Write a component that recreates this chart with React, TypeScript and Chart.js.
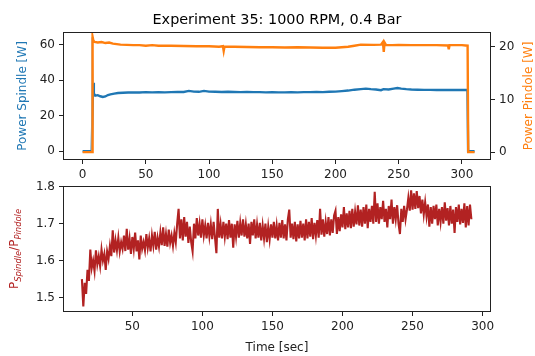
import React, { useEffect, useRef } from "react";
import { Chart, registerables } from "chart.js";

Chart.register(...registerables);

const FONT = "'DejaVu Sans', 'Liberation Sans', sans-serif";

const TITLE = "Experiment 35: 1000 RPM, 0.4 Bar";
const LEFT_LABEL = "Power Spindle [W]";
const RIGHT_LABEL = "Power Pindole [W]";
const X_LABEL = "Time [sec]";

// ---- top panel: spindle power (left axis) ----
const spindleTime = [0, 4, 7.2, 8.3, 8.9, 10, 12, 14, 16, 18, 20, 22, 25, 28, 32, 36, 40, 45, 50, 55, 60, 65, 70, 75, 80, 84, 88, 92, 96, 100, 105, 110, 115, 120, 125, 130, 135, 140, 145, 150, 155, 160, 165, 170, 175, 180, 185, 190, 195, 200, 205, 210, 215, 220, 224, 228, 232, 236, 238, 242, 246, 249, 252, 256, 260, 265, 270, 275, 280, 285, 290, 295, 300, 304.4, 304.9, 310];
const spindlePower = [0, 0, 0, 38.5, 32.6, 31.2, 31.5, 30.9, 30.5, 30.8, 31.6, 32.0, 32.4, 32.7, 32.9, 33.0, 33.1, 33.0, 33.2, 33.1, 33.2, 33.1, 33.2, 33.3, 33.3, 33.9, 33.5, 33.4, 33.9, 33.5, 33.4, 33.3, 33.4, 33.3, 33.2, 33.3, 33.2, 33.2, 33.1, 33.2, 33.1, 33.1, 33.2, 33.1, 33.2, 33.2, 33.3, 33.2, 33.4, 33.5, 33.8, 34.1, 34.6, 34.9, 35.2, 34.9, 34.7, 34.3, 34.9, 34.7, 35.2, 35.5, 35.2, 34.9, 34.7, 34.6, 34.5, 34.5, 34.4, 34.4, 34.5, 34.4, 34.4, 34.4, 0, 0];

// rise of the spindle trace at start-up (drawn faint in the original)
const riseTime = [7.0, 7.4, 8.2];
const risePower = [0, 64, 38];

// ---- top panel: pindole power (right axis) ----
const pindoleTime = [0, 4, 7.6, 7.9, 8.5, 9.5, 12, 15, 18, 21, 24, 27, 30, 35, 40, 45, 50, 55, 60, 70, 80, 90, 100, 108, 111, 111.6, 112.2, 120, 130, 140, 150, 160, 170, 180, 190, 200, 205, 210, 215, 220, 230, 236, 237.5, 238.2, 238.8, 240, 245, 250, 260, 270, 280, 289, 289.6, 290.2, 300, 304.5, 305, 310];
const pindolePower = [0, 0, 0, 21.9, 21.2, 20.9, 20.8, 20.9, 20.7, 20.8, 20.6, 20.5, 20.4, 20.35, 20.3, 20.3, 20.2, 20.3, 20.2, 20.2, 20.15, 20.1, 20.1, 20.0, 20.1, 19.2, 20.0, 20.0, 19.95, 19.9, 19.9, 19.85, 19.9, 19.85, 19.8, 19.8, 19.9, 20.0, 20.2, 20.4, 20.35, 20.4, 20.9, 19.0, 20.8, 20.3, 20.3, 20.35, 20.3, 20.3, 20.3, 20.25, 19.5, 20.3, 20.3, 20.2, 0, 0];

// ---- bottom panel: power ratio, one sample per second from t = 14 s ----
const ratioStart = 14;
const ratioStep = 1;
const ratioValues = [
  1.550, 1.476, 1.540, 1.510, 1.575, 1.545, 1.630, 1.580, 1.600, 1.572,
  1.628, 1.590, 1.612, 1.585, 1.630, 1.600, 1.618, 1.575, 1.625, 1.605,
  1.640, 1.612, 1.682, 1.622, 1.655, 1.628, 1.662, 1.625, 1.650, 1.632,
  1.668, 1.626, 1.686, 1.630, 1.660, 1.618, 1.664, 1.632, 1.676, 1.625,
  1.655, 1.603, 1.668, 1.632, 1.650, 1.628, 1.672, 1.635, 1.660, 1.625,
  1.668, 1.640, 1.678, 1.630, 1.662, 1.638, 1.676, 1.642, 1.690, 1.640,
  1.672, 1.638, 1.684, 1.648, 1.668, 1.640, 1.675, 1.650, 1.700, 1.740,
  1.660, 1.712, 1.655, 1.718, 1.665, 1.705, 1.648, 1.692, 1.650, 1.625,
  1.700, 1.660, 1.715, 1.668, 1.700, 1.662, 1.712, 1.668, 1.695, 1.660,
  1.702, 1.665, 1.698, 1.658, 1.705, 1.662, 1.620, 1.740, 1.662, 1.698,
  1.660, 1.705, 1.665, 1.700, 1.658, 1.710, 1.662, 1.700, 1.635, 1.698,
  1.665, 1.708, 1.662, 1.702, 1.668, 1.712, 1.665, 1.698, 1.660, 1.700,
  1.645, 1.705, 1.668, 1.712, 1.660, 1.698, 1.662, 1.702, 1.655, 1.695,
  1.660, 1.700, 1.650, 1.692, 1.658, 1.698, 1.662, 1.705, 1.660, 1.695,
  1.655, 1.702, 1.662, 1.710, 1.660, 1.698, 1.655, 1.712, 1.738, 1.662,
  1.700, 1.658, 1.705, 1.652, 1.698, 1.660, 1.708, 1.662, 1.700, 1.655,
  1.712, 1.660, 1.705, 1.665, 1.715, 1.658, 1.702, 1.668, 1.710, 1.662,
  1.740, 1.670, 1.712, 1.665, 1.705, 1.672, 1.718, 1.668, 1.712, 1.675,
  1.722, 1.735, 1.672, 1.718, 1.680, 1.725, 1.690, 1.745, 1.685, 1.728,
  1.690, 1.735, 1.688, 1.740, 1.692, 1.732, 1.698, 1.750, 1.695, 1.738,
  1.692, 1.745, 1.700, 1.752, 1.688, 1.740, 1.705, 1.748, 1.700, 1.786,
  1.705, 1.755, 1.700, 1.745, 1.712, 1.762, 1.705, 1.740, 1.690, 1.748,
  1.712, 1.765, 1.700, 1.745, 1.712, 1.750, 1.700, 1.672, 1.740, 1.705,
  1.748, 1.712, 1.738, 1.770, 1.735, 1.790, 1.738, 1.782, 1.740, 1.788,
  1.742, 1.775, 1.728, 1.765, 1.725, 1.758, 1.720, 1.752, 1.692, 1.745,
  1.700, 1.748, 1.712, 1.752, 1.695, 1.740, 1.705, 1.745, 1.700, 1.758,
  1.708, 1.742, 1.695, 1.748, 1.700, 1.738, 1.675, 1.745, 1.705, 1.752,
  1.698, 1.740, 1.702, 1.755, 1.690, 1.748, 1.695, 1.752, 1.712,
];

// ---- ticks ----
const topXTicks = [0, 50, 100, 150, 200, 250, 300];
const spindleTicks = [0, 20, 40, 60];
const pindoleTicks = [0, 10, 20];
const bottomXTicks = [50, 100, 150, 200, 250, 300];
const ratioTicks = [1.5, 1.6, 1.7, 1.8];

const BLUE = "#1f77b4";
const ORANGE = "#ff7f0e";
const RED = "#b22222";
const INK = "#222222";

const W = 535;
const H = 356;

function pairs(xs: number[], ys: number[]) {
  return xs.map((x, i) => ({ x, y: ys[i] }));
}

function axis(
  position: string,
  min: number,
  max: number,
  ticks: number[],
  size: number
) {
  const horizontal = position === "bottom" || position === "top";
  return {
    type: "linear",
    position,
    min,
    max,
    afterBuildTicks: (s: any) => {
      s.ticks = ticks.map((v) => ({ value: v }));
    },
    afterFit: (s: any) => {
      if (horizontal) s.height = size;
      else s.width = size;
    },
    grid: {
      display: true,
      drawOnChartArea: false,
      drawTicks: true,
      tickLength: 4,
      tickWidth: 1,
      tickColor: INK,
      color: "rgba(0,0,0,0)",
    },
    border: { display: false },
    ticks: {
      autoSkip: false,
      maxRotation: 0,
      minRotation: 0,
      padding: 4,
      color: INK,
      font: { family: FONT, size: 12 },
      callback: (v: any) => String(v),
    },
  };
}

const framePlugin = {
  id: "frame",
  afterDraw(chart: any) {
    const { ctx, chartArea: a } = chart;
    ctx.save();
    ctx.strokeStyle = INK;
    ctx.lineWidth = 1;
    ctx.strokeRect(a.left + 0.5, a.top + 0.5, a.right - a.left - 1, a.bottom - a.top - 1);
    ctx.restore();
  },
};

function rotatedText(ctx: CanvasRenderingContext2D, text: string, x: number, y: number, color: string, size: number) {
  ctx.save();
  ctx.translate(x, y);
  ctx.rotate(-Math.PI / 2);
  ctx.font = `${size}px ${FONT}`;
  ctx.fillStyle = color;
  ctx.textAlign = "center";
  ctx.textBaseline = "middle";
  ctx.fillText(text, 0, 0);
  ctx.restore();
}

const topLabels = {
  id: "topLabels",
  afterDraw(chart: any) {
    const ctx = chart.ctx as CanvasRenderingContext2D;
    const a = chart.chartArea;
    const cx = (a.left + a.right) / 2;
    const cy = (a.top + a.bottom) / 2;
    ctx.save();
    ctx.font = `14.4px ${FONT}`;
    ctx.fillStyle = "#000";
    ctx.textAlign = "center";
    ctx.textBaseline = "alphabetic";
    ctx.fillText(TITLE, cx, a.top - 8);
    ctx.restore();
    rotatedText(ctx, LEFT_LABEL, 23, cy, BLUE, 12);
    rotatedText(ctx, RIGHT_LABEL, 529, cy, ORANGE, 12);
  },
};

const bottomLabels = {
  id: "bottomLabels",
  afterDraw(chart: any) {
    const ctx = chart.ctx as CanvasRenderingContext2D;
    const a = chart.chartArea;
    const cx = (a.left + a.right) / 2;
    const cy = (a.top + a.bottom) / 2;
    ctx.save();
    ctx.font = `12px ${FONT}`;
    ctx.fillStyle = INK;
    ctx.textAlign = "center";
    ctx.textBaseline = "middle";
    ctx.fillText(X_LABEL, cx, 348);
    ctx.restore();

    // P_Spindle / P_Pindole with italic subscripts
    const parts: [string, boolean][] = [
      ["P", false],
      ["Spindle", true],
      ["/P", false],
      ["Pindole", true],
    ];
    const mainFont = `12px ${FONT}`;
    const subFont = `italic 8.4px ${FONT}`;
    ctx.save();
    ctx.translate(16, cy);
    ctx.rotate(-Math.PI / 2);
    ctx.fillStyle = RED;
    ctx.textBaseline = "alphabetic";
    ctx.textAlign = "left";
    let total = 0;
    for (const [t, sub] of parts) {
      ctx.font = sub ? subFont : mainFont;
      total += ctx.measureText(t).width;
    }
    let x = -total / 2;
    const base = 2.2;
    for (const [t, sub] of parts) {
      ctx.font = sub ? subFont : mainFont;
      ctx.fillText(t, x, sub ? base + 2.6 : base);
      x += ctx.measureText(t).width;
    }
    ctx.restore();
  },
};

function useChart(ref: React.RefObject<HTMLCanvasElement>, build: () => any) {
  useEffect(() => {
    if (!ref.current) return;
    const chart = new Chart(ref.current, build());
    return () => chart.destroy();
  }, []);
}

export default function App() {
  const topRef = useRef<HTMLCanvasElement>(null);
  const botRef = useRef<HTMLCanvasElement>(null);

  useChart(topRef, () => ({
    type: "line",
    data: {
      datasets: [
        {
          label: "Power Pindole",
          data: pairs(pindoleTime, pindolePower),
          yAxisID: "y1",
          borderColor: ORANGE,
          borderWidth: 2.4,
          pointRadius: 0,
          tension: 0,
          order: 0,
        },
        {
          label: "rise",
          data: pairs(riseTime, risePower),
          yAxisID: "y",
          borderColor: "#a9b6c4",
          borderWidth: 1.4,
          pointRadius: 0,
          tension: 0,
          order: 1,
        },
        {
          label: "Power Spindle",
          data: pairs(spindleTime, spindlePower),
          yAxisID: "y",
          borderColor: BLUE,
          borderWidth: 2.4,
          pointRadius: 0,
          tension: 0,
          order: 2,
        },
      ],
    },
    options: {
      responsive: false,
      animation: false,
      devicePixelRatio: 1,
      layout: { padding: { top: 32, left: 0, right: 0, bottom: 0 } },
      plugins: { legend: { display: false }, tooltip: { enabled: false }, title: { display: false } },
      scales: {
        x: axis("bottom", -15.5, 323, topXTicks, H - 160),
        y: axis("left", -4.9, 67, spindleTicks, 63),
        y1: axis("right", -1.5, 22.8, pindoleTicks, W - 491),
      },
    },
    plugins: [framePlugin, topLabels],
  }));

  useChart(botRef, () => ({
    type: "line",
    data: {
      datasets: [
        {
          label: "ratio",
          data: ratioValues.map((v, i) => ({ x: ratioStart + i * ratioStep, y: v })),
          borderColor: RED,
          borderWidth: 2.1,
          pointRadius: 0,
          tension: 0,
        },
      ],
    },
    options: {
      responsive: false,
      animation: false,
      devicePixelRatio: 1,
      layout: { padding: { top: 186, left: 0, right: W - 491, bottom: 0 } },
      plugins: { legend: { display: false }, tooltip: { enabled: false }, title: { display: false } },
      scales: {
        x: axis("bottom", 0.5, 306, bottomXTicks, H - 312),
        y: axis("left", 1.461, 1.802, ratioTicks, 63),
      },
    },
    plugins: [framePlugin, bottomLabels],
  }));

  const canvasStyle: React.CSSProperties = { position: "absolute", left: 0, top: 0 };
  return (
    <div style={{ position: "absolute", left: 0, top: 0, width: W, height: H, background: "#fff" }}>
      <canvas ref={topRef} width={W} height={H} style={canvasStyle} />
      <canvas ref={botRef} width={W} height={H} style={canvasStyle} />
    </div>
  );
}
